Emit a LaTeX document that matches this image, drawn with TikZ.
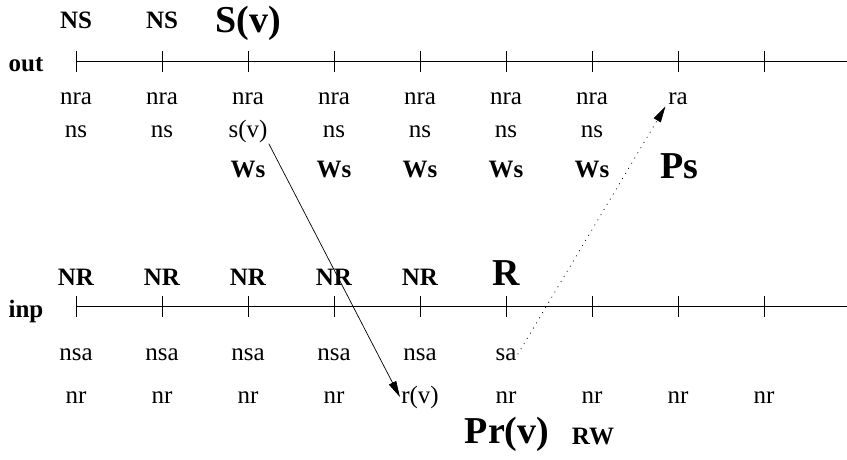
\documentclass[tikz,border=0pt]{standalone}
\usepackage{fontspec}
\setmainfont{Liberation Serif}
\usetikzlibrary{positioning, arrows.meta}

\begin{document}
\begin{tikzpicture}[x=1pt,y=-1pt,line width=0.7pt,
    txt/.style={font=\fontsize{25}{27}\selectfont,anchor=base,inner sep=1pt},
    tag/.style={font=\fontsize{25}{27}\selectfont\bfseries,anchor=base,inner sep=1pt},
    big/.style={font=\fontsize{38}{40}\selectfont\bfseries,anchor=base,inner sep=1pt}]
       \useasboundingbox (0,0) rectangle (847,460);

       % the two time lines
       \node[tag] (out) at (26,72) {out};
       \node[tag] (inp) at (26,317) {inp};
       \draw (76,61) -- (847,61);
       \draw (76,306) -- (847,306);
       \foreach \i in {0,...,8} {
         \draw (76+86*\i,51) -- (76+86*\i,72);
         \draw (76+86*\i,296) -- (76+86*\i,317);
       }

       % out side
       \node[tag] (ns1) at (76,29) {NS};
       \node[tag] (ns2) at (162,29) {NS};
       \node[big] (Sv) at (248,33) {S(v)};
       \foreach \i in {1,...,7}
         \node[txt] (nra\i) at (-10+86*\i,104) {nra};
       \node[txt] (ra) at (678,104) {ra};
       \foreach \i in {1,2,4,5,6,7}
         \node[txt] (s\i) at (-10+86*\i,137) {ns};
       \node[txt] (sv) at (248,137) {s(v)};
       \foreach \i in {3,...,7}
         \node[tag] (ws\i) at (-10+86*\i,177) {Ws};
       \node[big] (Ps) at (679,178) {Ps};

       % inp side
       \foreach \i in {1,...,5}
         \node[tag] (nr\i) at (-10+86*\i,285) {NR};
       \node[big] (R) at (506,285) {R};
       \foreach \i in {1,...,5}
         \node[txt] (nsa\i) at (-10+86*\i,360) {nsa};
       \node[txt] (sa) at (506,360) {sa};
       \foreach \i in {1,2,3,4,6,7,8,9}
         \node[txt] (r\i) at (-10+86*\i,403) {nr};
       \node[txt] (rv) at (420,403) {r(v)};
       \node[big] (Prv) at (507,443) {Pr(v)};
       \node[tag] (RW) at (593,444) {RW};

       \path[-{Triangle[length=16pt,width=8pt]}]
       (sv.south east) edge (rv.west)
       (sa.east) edge [dash pattern=on 1pt off 5pt,shorten >=3pt] (ra.base west);
    \end{tikzpicture}
\end{document}
